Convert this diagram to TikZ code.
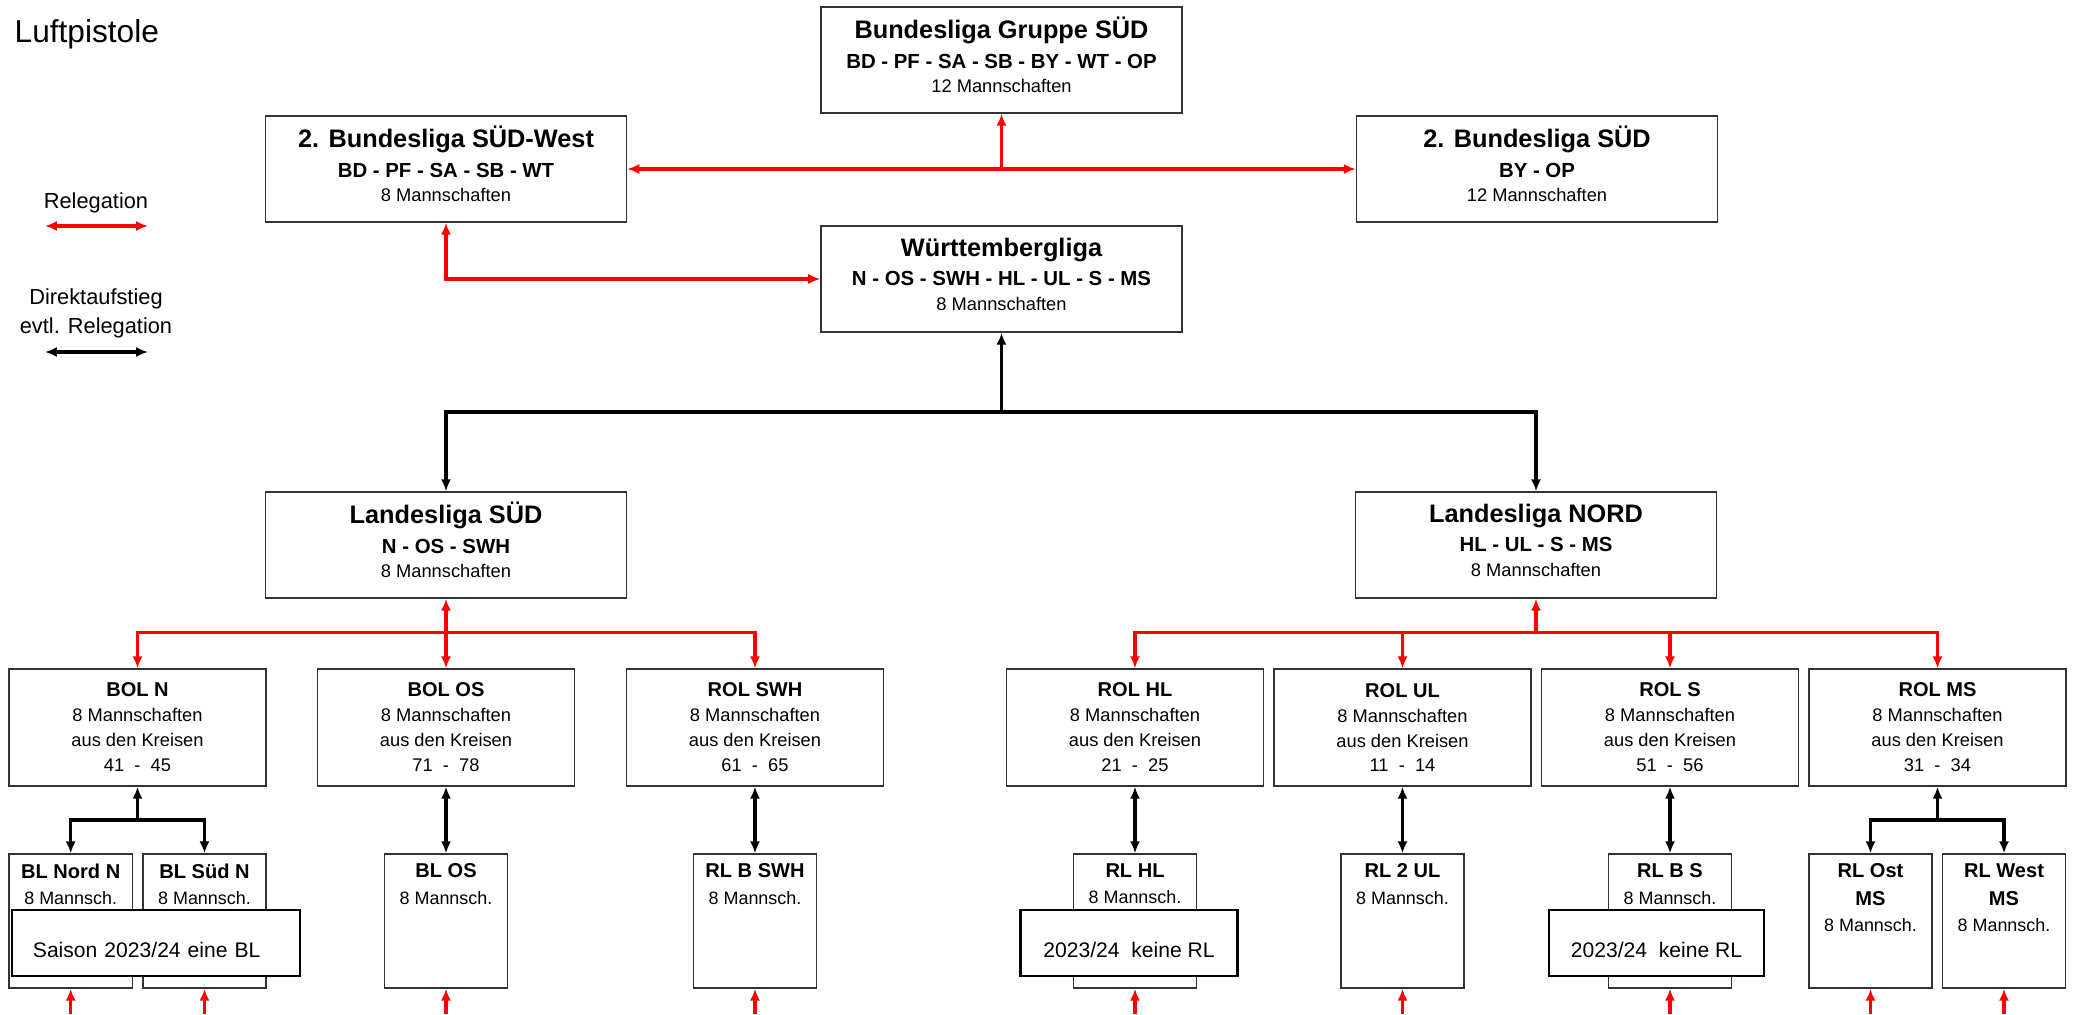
\documentclass[tikz,border=0pt]{standalone}
\usepackage{fontspec}
\setmainfont{Liberation Sans}
\usetikzlibrary{positioning,arrows.meta}
\definecolor{colorrel}{HTML}{FF0000}
\definecolor{colordir}{HTML}{000000}
\definecolor{colorbox}{HTML}{333333}
\tikzset{lgbox/.style={draw=colorbox, line width=0.4pt, inner sep=0pt, minimum width=3.61cm, minimum height=1.06cm, align=center, text depth=2.8pt, font=\fontsize{5.2pt}{7pt}\selectfont}}
\tikzset{olbox/.style={draw=colorbox, line width=0.4pt, inner sep=0pt, minimum width=2.57cm, minimum height=1.17cm, align=center, font=\fontsize{5.2pt}{7.1pt}\selectfont}}
\tikzset{rlbox/.style={draw=colorbox, line width=0.4pt, inner sep=0pt, minimum width=1.23cm, minimum height=1.34cm}}
\tikzset{rltext/.style={inner sep=0pt, align=center, font=\fontsize{5.1pt}{7.4pt}\selectfont}}
\tikzset{notebox/.style={draw=black, line width=0.8pt, fill=white, inner sep=0pt, minimum height=0.66cm, text height=8.25pt, text depth=0pt, font=\fontsize{6pt}{7pt}\selectfont}}
\tikzset{legtext/.style={inner sep=0pt, align=center, font=\fontsize{6.2pt}{8.25pt}\selectfont}}
\tikzset{
  edgerel/.style={colorrel, line width=0.95pt, -{Latex[length=3.4pt,width=2.9pt]}},
  edgerelb/.style={colorrel, line width=0.95pt, {Latex[length=3.4pt,width=2.9pt]}-{Latex[length=3.4pt,width=2.9pt]}},
  edgedir/.style={colordir, line width=0.95pt, -{Latex[length=3.4pt,width=2.9pt]}},
  edgedirb/.style={colordir, line width=0.95pt, {Latex[length=3.4pt,width=2.9pt]}-{Latex[length=3.4pt,width=2.9pt]}}
}
\newcommand\lgname[1]{{\fontsize{7.2pt}{8pt}\selectfont\bfseries #1}}
\newcommand\lgclubs[1]{{\fontsize{5.8pt}{7pt}\selectfont\bfseries #1}}
\newcommand\olname[1]{{\fontsize{5.7pt}{7pt}\selectfont\bfseries #1}}

\begin{document}
\begin{tikzpicture}[x=0.01cm, y=-0.01cm]
\useasboundingbox (0,0) rectangle (2073,1014);
\node[anchor=west, inner sep=0pt, font=\fontsize{9pt}{10pt}\selectfont] (title) at (14,34) {Luftpistole};
% legend
\node[legtext] (lgrel) at (96,203) {Relegation};
\coordinate (relA) at (45,226);
\coordinate (relB) at (148,226);
\draw[edgerelb] (relA) -- (relB);
\node[legtext] (lgdir) at (96,313) {Direktaufstieg\\evtl. Relegation};
\coordinate (dirA) at (45,352);
\coordinate (dirB) at (148,352);
\draw[edgedirb] (dirA) -- (dirB);
% leagues
\node[lgbox] (bgs) at (1001.5,60) {\lgname{Bundesliga Gruppe SÜD}\\[1.4pt]\lgclubs{BD - PF - SA - SB - BY - WT - OP}\\12 Mannschaften};
\node[lgbox] (bsw) at (446,169) {\lgname{2. Bundesliga SÜD-West}\\[1.4pt]\lgclubs{BD - PF - SA - SB - WT}\\8 Mannschaften};
\node[lgbox] (bs) at (1537,169) {\lgname{2. Bundesliga SÜD}\\[1.4pt]\lgclubs{BY - OP}\\12 Mannschaften};
\node[lgbox] (wl) at (1001.5,279) {\lgname{Württembergliga}\\[1.4pt]\lgclubs{N - OS - SWH - HL - UL - S - MS}\\8 Mannschaften};
\node[lgbox] (lss) at (446,545) {\lgname{Landesliga SÜD}\\[1.4pt]\lgclubs{N - OS - SWH}\\8 Mannschaften};
\node[lgbox] (lsn) at (1536,545) {\lgname{Landesliga NORD}\\[1.4pt]\lgclubs{HL - UL - S - MS}\\8 Mannschaften};
% BOL / ROL
\node[olbox] (boln) at (137.5,727.5) {\olname{BOL N}\\8 Mannschaften\\aus den Kreisen\\41\ \ -\ \ 45};
\node[olbox] (bolos) at (446,727.5) {\olname{BOL OS}\\8 Mannschaften\\aus den Kreisen\\71\ \ -\ \ 78};
\node[olbox] (rolswh) at (755,727.5) {\olname{ROL SWH}\\8 Mannschaften\\aus den Kreisen\\61\ \ -\ \ 65};
\node[olbox] (rolhl) at (1135,727.5) {\olname{ROL HL}\\8 Mannschaften\\aus den Kreisen\\21\ \ -\ \ 25};
\node[olbox] (rolul) at (1402.5,727.5) {\olname{ROL UL}\\8 Mannschaften\\aus den Kreisen\\11\ \ -\ \ 14};
\node[olbox] (rols) at (1670,727.5) {\olname{ROL S}\\8 Mannschaften\\aus den Kreisen\\51\ \ -\ \ 56};
\node[olbox] (rolms) at (1937.5,727.5) {\olname{ROL MS}\\8 Mannschaften\\aus den Kreisen\\31\ \ -\ \ 34};
% BL / RL
\node[rlbox] (blnn) at (70.7,921) {};
\node[rltext, below=1mm of blnn.north] (blnnt) {\olname{BL Nord N}\\8 Mannsch.};
\node[rlbox] (blsn) at (204.5,921) {};
\node[rltext, below=1mm of blsn.north] (blsnt) {\olname{BL Süd N}\\8 Mannsch.};
\node[rlbox] (blos) at (446,921) {};
\node[rltext, below=1mm of blos.north] (blost) {\olname{BL OS}\\8 Mannsch.};
\node[rlbox] (rlbswh) at (755,921) {};
\node[rltext, below=1mm of rlbswh.north] (rlbswht) {\olname{RL B SWH}\\8 Mannsch.};
\node[rlbox] (rlhl) at (1135,921) {};
\node[rltext, below=1mm of rlhl.north] (rlhlt) {\olname{RL HL}\\8 Mannsch.};
\node[rlbox] (rl2ul) at (1402.5,921) {};
\node[rltext, below=1mm of rl2ul.north] (rl2ult) {\olname{RL 2 UL}\\8 Mannsch.};
\node[rlbox] (rlbs) at (1670,921) {};
\node[rltext, below=1mm of rlbs.north] (rlbst) {\olname{RL B S}\\8 Mannsch.};
\node[rlbox] (rlost) at (1870.5,921) {};
\node[rltext, below=1mm of rlost.north] (rlostt) {\olname{RL Ost}\\[0.5pt]\olname{MS}\\8 Mannsch.};
\node[rlbox] (rlwest) at (2004,921) {};
\node[rltext, below=1mm of rlwest.north] (rlwestt) {\olname{RL West}\\[0.5pt]\olname{MS}\\8 Mannsch.};
% notes
\node[notebox, text width=2.46cm, align=left, inner xsep=0.21cm] (saison) at (156,943) {Saison 2023/24 eine BL};
\node[notebox, minimum width=2.165cm] (keinehl) at (1129,943) {2023/24\ \ keine RL};
\node[notebox, minimum width=2.15cm] (keines) at (1656.5,943) {2023/24\ \ keine RL};
% relegation
\draw[edgerelb] (bsw) -- (bs);
\coordinate (bmid) at (bsw -| bgs);
\draw[edgerel] (bmid) -- (bgs);
\draw[edgerelb] (bsw.south) |- (wl.west);
% direct promotion
\coordinate (jw) at (1001.5,412);
\draw[edgedir] (jw) -- (wl);
\draw[edgedir] (jw) -| (lss.north);
\draw[edgedir] (jw) -| (lsn.north);
\coordinate (js) at (446,632.7);
\draw[edgerel] (js) -- (lss);
\draw[edgerel] (js) -| (boln.north);
\draw[edgerel] (js) -- (bolos);
\draw[edgerel] (js) -| (rolswh.north);
\coordinate (jn) at (1536,632.7);
\draw[edgerel] (jn) -- (lsn);
\draw[edgerel] (jn) -| (rolhl.north);
\draw[edgerel] (jn) -| (rolul.north);
\draw[edgerel] (jn) -| (rols.north);
\draw[edgerel] (jn) -| (rolms.north);
\coordinate (jbn) at (137.5,820);
\draw[edgedir] (jbn) -- (boln);
\draw[edgedir] (jbn) -| (blnn.north);
\draw[edgedir] (jbn) -| (blsn.north);
\draw[edgedirb] (bolos) -- (blos);
\draw[edgedirb] (rolswh) -- (rlbswh);
\draw[edgedirb] (rolhl) -- (rlhl);
\draw[edgedirb] (rolul) -- (rl2ul);
\draw[edgedirb] (rols) -- (rlbs);
\coordinate (jbm) at (1937.5,820);
\draw[edgedir] (jbm) -- (rolms);
\draw[edgedir] (jbm) -| (rlost.north);
\draw[edgedir] (jbm) -| (rlwest.north);
% from below
\coordinate (bot) at (0,1014);
\draw[edgerel] (blnn.south |- bot) -- (blnn.south);
\draw[edgerel] (blsn.south |- bot) -- (blsn.south);
\draw[edgerel] (blos.south |- bot) -- (blos.south);
\draw[edgerel] (rlbswh.south |- bot) -- (rlbswh.south);
\draw[edgerel] (rlhl.south |- bot) -- (rlhl.south);
\draw[edgerel] (rl2ul.south |- bot) -- (rl2ul.south);
\draw[edgerel] (rlbs.south |- bot) -- (rlbs.south);
\draw[edgerel] (rlost.south |- bot) -- (rlost.south);
\draw[edgerel] (rlwest.south |- bot) -- (rlwest.south);
\end{tikzpicture}
\end{document}
